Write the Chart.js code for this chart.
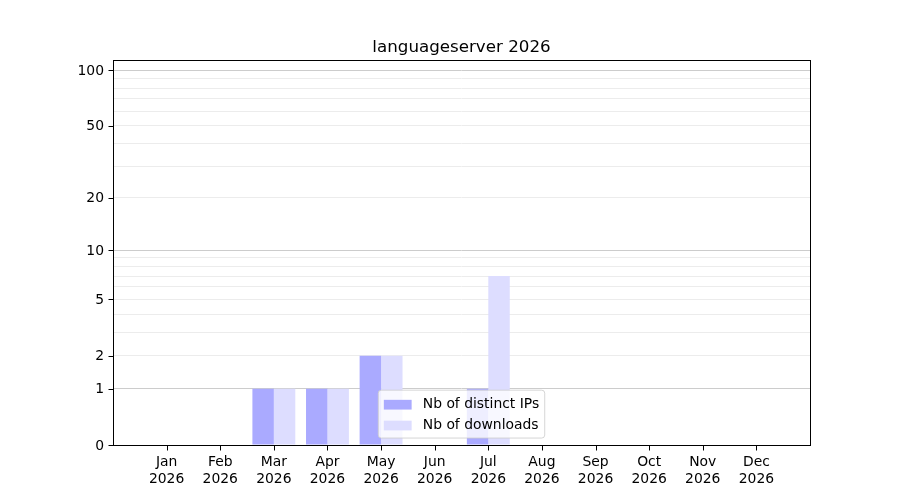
<!DOCTYPE html>
<html>
<head>
<meta charset="utf-8">
<title>languageserver 2026</title>
<script src="https://cdn.jsdelivr.net/npm/chart.js@4"></script>
<style>
  html, body { margin: 0; padding: 0; background: #fff; }
  #chart { display: block; }
</style>
</head>
<body>
<canvas id="chart" width="900" height="500"></canvas>
<script>
// Data
const months = ['Jan', 'Feb', 'Mar', 'Apr', 'May', 'Jun', 'Jul', 'Aug', 'Sep', 'Oct', 'Nov', 'Dec'];
const year = '2026';
const distinctIPs = [0, 0, 1, 1, 2, 0, 1, 0, 0, 0, 0, 0];
const downloads = [0, 0, 1, 1, 2, 0, 7, 0, 0, 0, 0, 0];
const yLabelTicks = [0, 1, 2, 5, 10, 20, 50, 100];
const yMinorTicks = [3, 4, 6, 7, 8, 9, 30, 40, 60, 70, 80, 90];
const yMajorGrid = [1, 10, 100];
const yTop = 113.5;

const FONT = '"DejaVu Sans", sans-serif';

// the axis is log10(1 + v)
function toAxis(v) {
    return v === null ? null : Math.log10(1 + v);
}

// one empty slot on each side, like the reference x range
const labels = [''].concat(months.map(m => [m, year]), ['']);
function pad(arr) {
    return [null].concat(arr.map(toAxis), [null]);
}

const yTicks = yLabelTicks.concat(yMinorTicks).sort((a, b) => a - b);

// Title, frame, tick marks and legend drawn the matplotlib way
const decorPlugin = {
    id: 'decor',
    afterDraw(chart) {
        const ctx = chart.ctx;
        const a = chart.chartArea;
        const xScale = chart.scales.x;
        const yScale = chart.scales.y;
        const left = Math.round(a.left) + 0.5;
        const bottom = Math.round(a.bottom) + 0.5;
        ctx.save();

        // frame
        ctx.strokeStyle = '#000';
        ctx.lineWidth = 1;
        ctx.strokeRect(left, Math.round(a.top) + 0.5,
            Math.round(a.right - a.left), Math.round(a.bottom - a.top));

        // tick marks
        ctx.beginPath();
        for (let i = 1; i < labels.length - 1; i++) {
            const px = Math.round(xScale.getPixelForTick(i)) + 0.5;
            ctx.moveTo(px, bottom);
            ctx.lineTo(px, bottom + 5);
        }
        yLabelTicks.forEach(v => {
            const py = Math.round(yScale.getPixelForValue(toAxis(v))) + 0.5;
            ctx.moveTo(left, py);
            ctx.lineTo(left - 5, py);
        });
        ctx.strokeStyle = '#000';
        ctx.lineWidth = 1;
        ctx.stroke();

        // title
        ctx.fillStyle = '#000';
        ctx.font = '16.7px ' + FONT;
        ctx.textAlign = 'center';
        ctx.textBaseline = 'alphabetic';
        ctx.fillText('languageserver 2026', (a.left + a.right) / 2, a.top - 8.5);

        // legend, lower center
        const fs = 13.9;
        ctx.font = fs + 'px ' + FONT;
        const sets = chart.data.datasets;
        let textW = 0;
        sets.forEach(ds => { textW = Math.max(textW, ctx.measureText(ds.label).width); });
        const rowH = fs * 1.5;
        const w = fs * 0.4 * 2 + fs * 2 + fs * 0.8 + textW;
        const h = fs * 0.4 * 2 + rowH * sets.length - fs * 0.5 + 2;
        const x0 = (a.left + a.right) / 2 - w / 2;
        const y0 = a.bottom - fs * 0.5 - h;

        ctx.beginPath();
        ctx.roundRect(x0, y0, w, h, 3);
        ctx.fillStyle = 'rgba(255,255,255,0.8)';
        ctx.fill();
        ctx.strokeStyle = 'rgba(204,204,204,0.8)';
        ctx.stroke();

        ctx.textAlign = 'left';
        ctx.textBaseline = 'middle';
        sets.forEach((ds, i) => {
            const cy = y0 + fs * 0.4 + 1 + fs * 0.5 + i * rowH + 1;
            ctx.fillStyle = ds.backgroundColor;
            ctx.fillRect(x0 + fs * 0.4, cy - fs * 0.35, fs * 2, fs * 0.7);
            ctx.fillStyle = '#000';
            ctx.fillText(ds.label, x0 + fs * 0.4 + fs * 2 + fs * 0.8, cy);
        });

        ctx.restore();
    }
};

new Chart(document.getElementById('chart'), {
    type: 'bar',
    data: {
        labels: labels,
        datasets: [{
            label: 'Nb of distinct IPs',
            data: pad(distinctIPs),
            backgroundColor: '#aaaaff',
            borderWidth: 0
        }, {
            label: 'Nb of downloads',
            data: pad(downloads),
            backgroundColor: '#ddddff',
            borderWidth: 0
        }]
    },
    options: {
        responsive: false,
        devicePixelRatio: 1,
        animation: false,
        layout: {
            padding: { top: 60, left: 63, right: 90, bottom: 0 }
        },
        categoryPercentage: 0.8,
        barPercentage: 1.0,
        plugins: {
            legend: { display: false },
            title: { display: false },
            tooltip: { enabled: false }
        },
        scales: {
            x: {
                offset: false,
                afterFit: function(scale) { scale.height = 55; },
                border: { display: false },
                grid: { display: false },
                ticks: {
                    autoSkip: false,
                    maxRotation: 0,
                    padding: 1.5,
                    color: '#000',
                    font: { family: FONT, size: 13.9, lineHeight: 1.2 }
                }
            },
            y: {
                min: 0,
                max: toAxis(yTop),
                afterFit: function(scale) { scale.width = 50; },
                afterBuildTicks: function(scale) {
                    scale.ticks = yTicks.map(v => ({ value: toAxis(v) }));
                },
                border: { display: false },
                grid: {
                    lineWidth: 1,
                    drawTicks: false,
                    color: function(c) {
                        const v = yTicks[c.index];
                        if (v === 0) return 'rgba(0,0,0,0)';
                        return yMajorGrid.includes(v) ? '#cccccc' : '#ececec';
                    }
                },
                ticks: {
                    autoSkip: false,
                    padding: 9,
                    labelOffset: 1,
                    color: '#000',
                    font: { family: FONT, size: 13.9 },
                    callback: function(value, index) {
                        const v = yTicks[index];
                        return yLabelTicks.includes(v) ? String(v) : '';
                    }
                }
            }
        }
    },
    plugins: [decorPlugin]
});
</script>
</body>
</html>
